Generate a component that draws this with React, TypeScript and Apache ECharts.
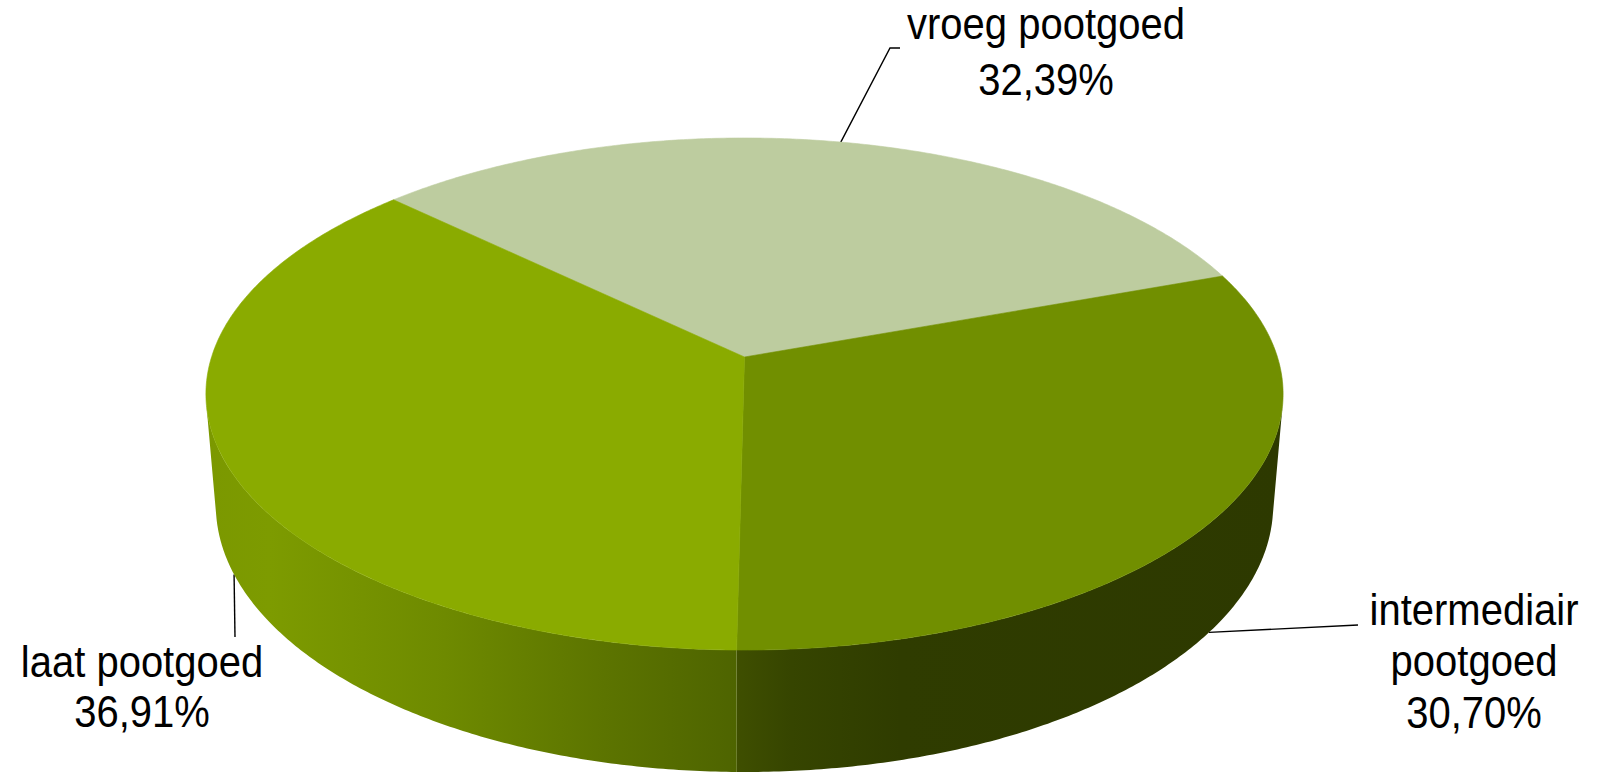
import React, { useEffect, useRef } from "react";
import * as echarts from "echarts";

// ---- data ----
const CATEGORIES = ["vroeg pootgoed", "intermediair pootgoed", "laat pootgoed"];
const VALUES = [32.39, 30.7, 36.91];
const LABEL_WRAP = [false, true, false];

// ---- styles / layout (not data) ----
const TOP_COLORS = ["#BDCC9F", "#718F00", "#8AAB00"];
const SIDE_STOPS = [
  [
    { offset: 0, color: "#9DB06F" },
    { offset: 1, color: "#8A9C5E" },
  ],
  [
    { offset: 0, color: "#3F4F00" },
    { offset: 0.1, color: "#364500" },
    { offset: 0.3, color: "#2F3C00" },
    { offset: 1, color: "#2D3900" },
  ],
  [
    { offset: 0, color: "#7B9800" },
    { offset: 0.12, color: "#7D9B00" },
    { offset: 0.45, color: "#6E8A00" },
    { offset: 0.75, color: "#5C7400" },
    { offset: 1, color: "#4E6400" },
  ],
];
const START_ANGLE = -46.4; // degrees, clockwise from the far side

// perspective geometry (pixels)
const GEO = {
  cx: 744.5,
  cy: 357,
  F: 3253,
  D: 6.104,
  tilt: 28.06,
  h: 0.238,
};

const LABEL_LAYOUT = [
  { cx: 1046, baseline: 39, gap: 56, rim: "top", leader: [[890, 48], [900, 48]] },
  { cx: 1474, baseline: 625, gap: 51.5, rim: "bottom", leader: [[1358, 625]] },
  { cx: 142, baseline: 677, gap: 50, rim: "bottom", leader: [[235, 637]] },
];
const FONT_SIZE = 40;
const TEXT_STRETCH = 1.1;
const FONT = `${FONT_SIZE}px "Liberation Sans", Arial, sans-serif`;

const s = Math.sin((GEO.tilt * Math.PI) / 180);
const c = Math.cos((GEO.tilt * Math.PI) / 180);

function proj(thetaDeg: number, Y: number): number[] {
  const t = (thetaDeg * Math.PI) / 180;
  const X = Math.sin(t);
  const Z = Math.cos(t);
  const yc = Z * s + Y * c;
  const depth = GEO.D + Z * c - Y * s;
  return [GEO.cx + (GEO.F * X) / depth, GEO.cy - (GEO.F * yc) / depth];
}

function sliceAngles(i: number): [number, number] {
  const total = VALUES.reduce((a, b) => a + b, 0);
  let acc = 0;
  for (let k = 0; k < i; k++) acc += VALUES[k];
  const a0 = START_ANGLE + (360 * acc) / total;
  const a1 = a0 + (360 * VALUES[i]) / total;
  return [a0, a1];
}

function arc(a0: number, a1: number, Y: number): number[][] {
  const pts: number[][] = [];
  const n = Math.max(2, Math.ceil(Math.abs(a1 - a0) / 0.5));
  for (let k = 0; k <= n; k++) pts.push(proj(a0 + ((a1 - a0) * k) / n, Y));
  return pts;
}

// visible (front-facing) range of the rim
const VIS = (Math.acos(-1 / (GEO.D * c)) * 180) / Math.PI; // ~100.7

function fmt(v: number) {
  return v.toFixed(2).replace(".", ",") + "%";
}

export default function App() {
  const ref = useRef<HTMLDivElement>(null);
  useEffect(() => {
    document.body.style.margin = "0";
    if (!ref.current) return;
    const chart = echarts.init(ref.current, undefined, { renderer: "svg" });
    const data = VALUES.map((v, i) => ({ name: CATEGORIES[i], value: v }));

    const sides = (params: any) => {
      const i = params.dataIndex;
      const [a0, a1] = sliceAngles(i);
      const children: any[] = [];
      for (let k = -1; k <= 2; k++) {
        const lo = Math.max(a0, VIS + 360 * k);
        const hi = Math.min(a1, 360 - VIS + 360 * k);
        if (hi > lo) {
          const top = arc(lo, hi, 0);
          const bot = arc(hi, lo, -GEO.h);
          children.push({
            type: "polygon",
            shape: { points: top.concat(bot) },
            style: {
              fill: { type: "linear", x: 0, y: 0, x2: 1, y2: 0, colorStops: SIDE_STOPS[i] },
              stroke: null,
            },
            silent: true,
          });
        }
      }
      return { type: "group", children };
    };

    const tops = (params: any) => {
      const i = params.dataIndex;
      const [a0, a1] = sliceAngles(i);
      const pts = [[GEO.cx, GEO.cy]].concat(arc(a0, a1, 0));
      return {
        type: "polygon",
        shape: { points: pts },
        style: { fill: TOP_COLORS[i], stroke: TOP_COLORS[i], lineWidth: 0.6 },
        silent: true,
      };
    };

    const labels = (params: any, api: any) => {
      const i = params.dataIndex;
      const [a0, a1] = sliceAngles(i);
      const mid = (a0 + a1) / 2;
      const L = LABEL_LAYOUT[i];
      const start = proj(mid, L.rim === "top" ? 0 : -GEO.h);
      const name = CATEGORIES[i];
      const lines = (LABEL_WRAP[i] ? name.split(" ") : [name]).concat([fmt(api.value(0))]);
      const children: any[] = [
        {
          type: "polyline",
          shape: { points: [start].concat(L.leader) },
          style: { stroke: "#000", lineWidth: 1.4, fill: null },
          silent: true,
        },
      ];
      lines.forEach((t, j) => {
        children.push({
          type: "text",
          x: L.cx,
          y: L.baseline + j * L.gap - FONT_SIZE * 0.3465 * TEXT_STRETCH,
          scaleY: TEXT_STRETCH,
          style: {
            text: t,
            font: FONT,
            fill: "#000",
            align: "center",
            verticalAlign: "middle",
            textAlign: "center",
            textVerticalAlign: "middle",
          },
          silent: true,
        });
      });
      return { type: "group", children };
    };

    chart.setOption({
      animation: false,
      series: [
        { type: "custom", coordinateSystem: "none", data, renderItem: labels, z: 1, silent: true },
        { type: "custom", coordinateSystem: "none", data, renderItem: sides, z: 2, silent: true },
        { type: "custom", coordinateSystem: "none", data, renderItem: tops, z: 3, silent: true },
      ],
    });
    return () => chart.dispose();
  }, []);
  return (
    <div
      ref={ref}
      style={{ position: "fixed", left: 0, top: 0, width: 1598, height: 773, background: "#fff" }}
    />
  );
}
